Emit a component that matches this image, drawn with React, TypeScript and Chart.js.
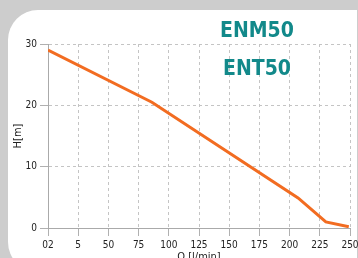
import React, { useEffect, useRef } from "react";
import { Chart, registerables } from "chart.js";

Chart.register(...registerables);

const flowQ = [0, 86, 207, 230, 249];
const headH = [29, 20.5, 4.9, 1.0, 0.2];
const xTickLabels = ["02", "5", "50", "75", "100", "125", "150", "175", "200", "225", "250"];
const yTickLabels = ["0", "10", "20", "30"];
const modelNames = ["ENM50", "ENT50"];

const tickFont = { family: "'Liberation Sans Narrow', 'DejaVu Sans Condensed', Arial, sans-serif", size: 10 };

export default function App() {
  const ref = useRef<HTMLCanvasElement | null>(null);

  useEffect(() => {
    if (!ref.current) return;
    const chart = new Chart(ref.current, {
      type: "line",
      data: {
        datasets: [
          {
            data: flowQ.map((q, i) => ({ x: q, y: headH[i] })),
            borderColor: "#f26c21",
            borderWidth: 3,
            pointRadius: 0,
            tension: 0,
            fill: false,
          },
        ],
      },
      options: {
        animation: false,
        responsive: false,
        layout: { padding: { left: 0, top: 44, right: 8, bottom: 0 } },
        plugins: { legend: { display: false }, tooltip: { enabled: false } },
        scales: {
          x: {
            type: "linear",
            min: 0,
            max: 250,
            afterFit: (s: any) => {
              s.height = 38;
              s.paddingRight = 0;
              s.paddingLeft = 0;
            },
            ticks: {
              stepSize: 25,
              color: "#222",
              font: tickFont,
              maxRotation: 0,
              autoSkip: false,
              padding: 3,
              callback: (_v: any, i: number) => xTickLabels[i],
            },
            grid: { color: "#c4c4c4", tickColor: "#b0b0b0", tickLength: 8, tickBorderDash: [] },
            border: { color: "#aaaaaa", width: 1, dash: [3, 3] },
            title: {
              display: true,
              text: "Q [l/min]",
              color: "#222",
              font: { ...tickFont, size: 11 },
              padding: { top: 0, bottom: 2 },
            },
          },
          y: {
            min: 0,
            max: 30,
            afterFit: (s: any) => {
              s.width = 48;
            },
            ticks: {
              stepSize: 10,
              color: "#222",
              font: tickFont,
              padding: 3,
              callback: (_v: any, i: number) => yTickLabels[i],
            },
            grid: { color: "#c4c4c4", tickColor: "#b0b0b0", tickLength: 8, tickBorderDash: [] },
            border: { color: "#aaaaaa", width: 1, dash: [3, 3] },
            title: {
              display: true,
              text: "H[m]",
              color: "#222",
              font: { ...tickFont, size: 11 },
              padding: { top: 12, bottom: 0 },
            },
          },
        },
      },
    });
    return () => chart.destroy();
  }, []);

  return (
    <div
      style={{
        position: "absolute",
        left: 0,
        top: 0,
        width: 358,
        height: 258,
        overflow: "hidden",
        background: "#cdcdcd",
      }}
    >
      <div
        style={{
          position: "absolute",
          left: 8,
          top: 10,
          width: 349,
          height: 262,
          background: "#ffffff",
          borderRadius: "30px 0 0 30px",
        }}
      />
      <canvas ref={ref} width={358} height={266} style={{ position: "absolute", left: 0, top: 0, width: 358, height: 266 }} />
      {modelNames.map((name, i) => (
        <div
          key={name}
          style={{
            position: "absolute",
            left: 200,
            width: 114,
            top: 17 + i * 38,
            textAlign: "center",
            fontFamily: "'Liberation Sans Narrow', 'DejaVu Sans Condensed', Arial, sans-serif",
            fontWeight: "bold",
            fontSize: 21,
            lineHeight: "26px",
            color: "#12898a",
          }}
        >
          {name}
        </div>
      ))}
    </div>
  );
}
